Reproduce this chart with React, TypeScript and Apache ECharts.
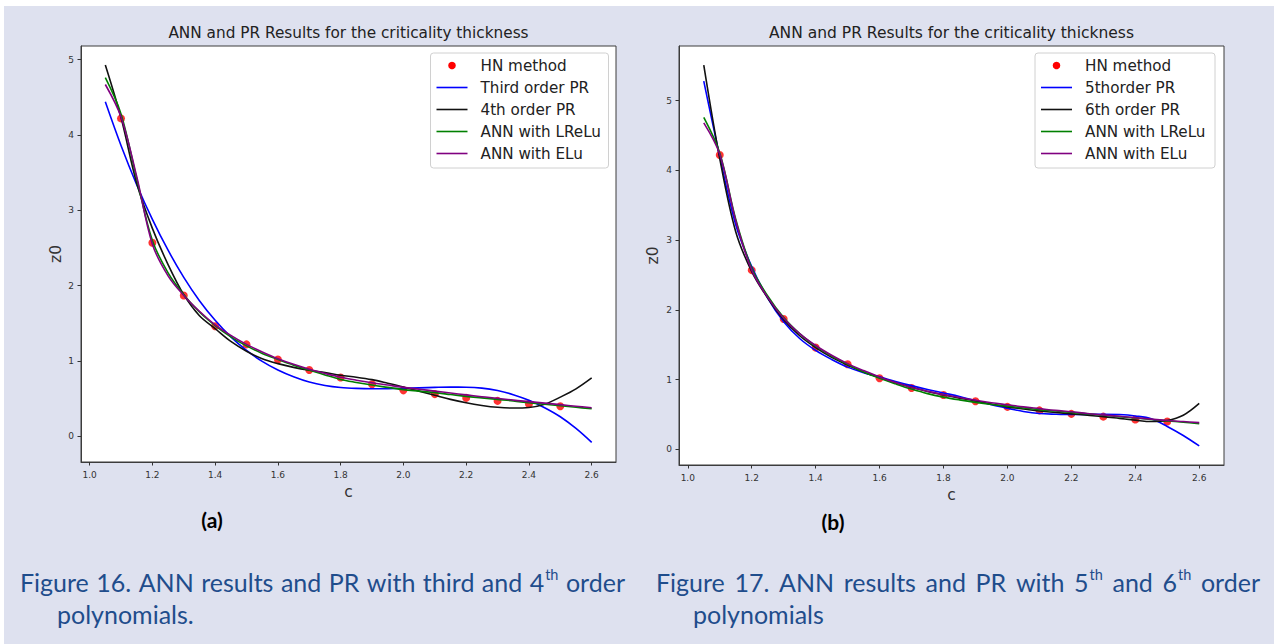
import { useEffect, useRef } from "react";
import * as echarts from "echarts";

// Abscissa grid on which the fitted curves are evaluated
const cFit = [
  1.05, 1.1, 1.15, 1.2, 1.25, 1.3, 1.35, 1.4, 1.45, 1.5, 1.55, 1.6, 1.65, 1.7, 1.75, 1.8,
  1.85, 1.9, 1.95, 2.0, 2.05, 2.1, 2.15, 2.2, 2.25, 2.3, 2.35, 2.4, 2.45, 2.5, 2.55, 2.6,
];

// HN method reference points
const cHN = [1.1, 1.2, 1.3, 1.4, 1.5, 1.6, 1.7, 1.8, 1.9, 2.0, 2.1, 2.2, 2.3, 2.4, 2.5];
const z0HN = [4.22, 2.57, 1.87, 1.46, 1.22, 1.02, 0.88, 0.78, 0.69, 0.61, 0.56, 0.51, 0.47, 0.43, 0.4];

// (a) third / fourth order polynomial regression and ANN fits
const z0Poly3 = [
  4.44, 3.86, 3.34, 2.88, 2.47, 2.11, 1.8, 1.54, 1.32, 1.14, 0.995, 0.88, 0.79, 0.72, 0.675, 0.648,
  0.636, 0.632, 0.633, 0.637, 0.643, 0.649, 0.653, 0.652, 0.64, 0.607, 0.553, 0.478, 0.38, 0.26, 0.105, -0.08,
];
const z0Poly4 = [
  4.93, 4.23, 3.36, 2.76, 2.28, 1.88, 1.6, 1.43, 1.26, 1.13, 1.03, 0.965, 0.915, 0.876, 0.845, 0.81,
  0.785, 0.752, 0.705, 0.655, 0.6, 0.545, 0.49, 0.445, 0.41, 0.385, 0.375, 0.382, 0.425, 0.52, 0.63, 0.775,
];
const z0LReLuA = [
  4.76, 4.28, 3.42, 2.6, 2.17, 1.88, 1.65, 1.47, 1.32, 1.2, 1.1, 1.02, 0.945, 0.88, 0.815, 0.755,
  0.715, 0.68, 0.65, 0.62, 0.6, 0.58, 0.555, 0.53, 0.51, 0.49, 0.47, 0.445, 0.425, 0.405, 0.385, 0.365,
];
const z0ELuA = [
  4.67, 4.24, 3.45, 2.55, 2.13, 1.87, 1.66, 1.48, 1.34, 1.22, 1.12, 1.03, 0.955, 0.89, 0.835, 0.785,
  0.745, 0.71, 0.68, 0.65, 0.625, 0.6, 0.575, 0.55, 0.525, 0.505, 0.48, 0.46, 0.44, 0.42, 0.4, 0.38,
];

// (b) fifth / sixth order polynomial regression and ANN fits
const z0Poly5 = [
  5.28, 4.2, 3.22, 2.62, 2.17, 1.83, 1.59, 1.42, 1.29, 1.18, 1.1, 1.04, 0.975, 0.915, 0.86, 0.81,
  0.76, 0.7, 0.64, 0.59, 0.545, 0.515, 0.505, 0.5, 0.502, 0.505, 0.5, 0.48, 0.44, 0.33, 0.2, 0.05,
];
const z0Poly6 = [
  5.51, 4.17, 3.12, 2.55, 2.17, 1.86, 1.63, 1.46, 1.32, 1.21, 1.11, 1.03, 0.955, 0.89, 0.83, 0.78,
  0.735, 0.695, 0.65, 0.61, 0.58, 0.55, 0.53, 0.51, 0.49, 0.47, 0.445, 0.42, 0.4, 0.415, 0.49, 0.66,
];
const z0LReLuB = [
  4.76, 4.25, 3.3, 2.6, 2.2, 1.89, 1.66, 1.48, 1.34, 1.22, 1.11, 1.02, 0.94, 0.865, 0.8, 0.75,
  0.71, 0.675, 0.645, 0.62, 0.595, 0.57, 0.55, 0.53, 0.51, 0.49, 0.47, 0.45, 0.43, 0.41, 0.39, 0.37,
];
const z0ELuB = [
  4.68, 4.23, 3.28, 2.57, 2.18, 1.88, 1.66, 1.49, 1.35, 1.23, 1.13, 1.04, 0.96, 0.89, 0.835, 0.785,
  0.745, 0.705, 0.67, 0.64, 0.61, 0.585, 0.56, 0.54, 0.515, 0.495, 0.475, 0.455, 0.435, 0.415, 0.4, 0.385,
];

// Tick labels
const xTickValues = [1.0, 1.2, 1.4, 1.6, 1.8, 2.0, 2.2, 2.4, 2.6];
const yTickValues = [0, 1, 2, 3, 4, 5];

const chartTitle = "ANN and PR Results for the criticality thickness";
const legendNamesA = ["HN method", "Third order PR", "4th order PR", "ANN with LReLu", "ANN with ELu"];
const legendNamesB = ["HN method", "5thorder PR", "6th order PR", "ANN with LReLu", "ANN with ELu"];

const RED = "#ff0000";
const BLUE = "#0000ff";
const BLACK = "#111111";
const GREEN = "#008000";
const PURPLE = "#800080";
const CAPTION = "#1f4d8c";
const MPL_FONT = "DejaVu Sans";
const DOC_FONT = "Lato";

type Panel = {
  grid: { left: number; top: number; width: number; height: number };
  xRange: [number, number];
  yRange: [number, number];
  curves: number[][];
  names: string[];
  legend: { x: number; y: number; w: number; h: number };
  tag: { text: string; x: number; y: number };
  yNameGap: number;
  titleSize: number;
};

const panels: Panel[] = [
  {
    grid: { left: 81, top: 46, width: 535, height: 416 },
    xRange: [0.9725, 2.6775],
    yRange: [-0.341, 5.181],
    curves: [z0Poly3, z0Poly4, z0LReLuA, z0ELuA],
    names: legendNamesA,
    legend: { x: 430.5, y: 53, w: 178, h: 115 },
    tag: { text: "(a)", x: 212, y: 519 },
    yNameGap: 17,
    titleSize: 15.3,
  },
  {
    grid: { left: 679, top: 46, width: 545, height: 419 },
    xRange: [0.9725, 2.6775],
    yRange: [-0.223, 5.783],
    curves: [z0Poly5, z0Poly6, z0LReLuB, z0ELuB],
    names: legendNamesB,
    legend: { x: 1035, y: 53, w: 180, h: 115 },
    tag: { text: "(b)", x: 833, y: 521 },
    yNameGap: 18,
    titleSize: 15.5,
  },
];

const lineColors = [BLUE, BLACK, GREEN, PURPLE];

type Word = { t: string; sup?: string };

const captionA1: Word[] = [
  { t: "Figure" }, { t: "16." }, { t: "ANN" }, { t: "results" }, { t: "and" }, { t: "PR" },
  { t: "with" }, { t: "third" }, { t: "and" }, { t: "4", sup: "th" }, { t: "order" },
];
const captionB1: Word[] = [
  { t: "Figure" }, { t: "17." }, { t: "ANN" }, { t: "results" }, { t: "and" }, { t: "PR" },
  { t: "with" }, { t: "5", sup: "th" }, { t: "and" }, { t: "6", sup: "th" }, { t: "order" },
];

function buildOption() {
  const canvas = document.createElement("canvas");
  const ctx = canvas.getContext("2d")!;
  const capSize = 25;
  const supSize = 14.5;
  const measure = (text: string, size: number) => {
    ctx.font = `${size}px ${DOC_FONT}`;
    return ctx.measureText(text).width;
  };

  const graphics: any[] = [];

  // Justified caption line: words spread between x0 and x1
  const justified = (words: Word[], x0: number, x1: number, y: number) => {
    const widths = words.map((w) => measure(w.t, capSize) + (w.sup ? measure(w.sup, supSize) + 1 : 0));
    const total = widths.reduce((a, b) => a + b, 0);
    const gap = (x1 - x0 - total) / (words.length - 1);
    let x = x0;
    words.forEach((w, i) => {
      graphics.push({
        type: "text",
        x,
        y,
        style: { text: w.t, fontSize: capSize, fontFamily: DOC_FONT, fill: CAPTION, align: "left", verticalAlign: "middle" },
      });
      if (w.sup) {
        graphics.push({
          type: "text",
          x: x + measure(w.t, capSize) + 1,
          y: y - 8,
          style: { text: w.sup, fontSize: supSize, fontFamily: DOC_FONT, fill: CAPTION, align: "left", verticalAlign: "middle" },
        });
      }
      x += widths[i] + gap;
    });
  };

  justified(captionA1, 20, 625, 582);
  graphics.push({
    type: "text", x: 57, y: 614,
    style: { text: "polynomials.", fontSize: capSize, fontFamily: DOC_FONT, fill: CAPTION, align: "left", verticalAlign: "middle" },
  });
  justified(captionB1, 656, 1260, 582);
  graphics.push({
    type: "text", x: 693, y: 614,
    style: { text: "polynomials", fontSize: capSize, fontFamily: DOC_FONT, fill: CAPTION, align: "left", verticalAlign: "middle" },
  });

  const grids: any[] = [];
  const xAxes: any[] = [];
  const yAxes: any[] = [];
  const series: any[] = [];

  panels.forEach((p, pi) => {
    grids.push({
      ...p.grid,
      show: true,
      backgroundColor: "#ffffff",
      borderColor: "#3c3c3c",
      borderWidth: 1,
    });
    xAxes.push({
      type: "value",
      gridIndex: pi,
      min: p.xRange[0],
      max: p.xRange[1],
      axisLine: { show: true, onZero: false, lineStyle: { color: "#3c3c3c", width: 1 } },
      axisTick: { show: true, inside: false, length: 3.5, lineStyle: { color: "#333" }, customValues: xTickValues },
      axisLabel: {
        customValues: xTickValues,
        formatter: (v: number) => v.toFixed(1),
        fontSize: 9,
        fontFamily: MPL_FONT,
        color: "#333",
        margin: 8,
      },
      splitLine: { show: false },
      name: "c",
      nameLocation: "middle",
      nameGap: 20,
      nameTextStyle: { fontSize: 15.5, fontFamily: MPL_FONT, color: "#333" },
    });
    yAxes.push({
      type: "value",
      gridIndex: pi,
      min: p.yRange[0],
      max: p.yRange[1],
      axisLine: { show: true, onZero: false, lineStyle: { color: "#3c3c3c", width: 1 } },
      axisTick: { show: true, inside: false, length: 3.5, lineStyle: { color: "#333" }, customValues: yTickValues },
      axisLabel: {
        customValues: yTickValues,
        formatter: (v: number) => String(v),
        fontSize: 9,
        fontFamily: MPL_FONT,
        color: "#333",
        margin: 7,
      },
      splitLine: { show: false },
      name: "z0",
      nameLocation: "middle",
      nameRotate: 90,
      nameGap: p.yNameGap,
      nameTextStyle: { fontSize: 15.5, fontFamily: MPL_FONT, color: "#333" },
    });

    series.push({
      type: "scatter",
      name: p.names[0],
      xAxisIndex: pi,
      yAxisIndex: pi,
      data: cHN.map((c, i) => [c, z0HN[i]]),
      symbol: "circle",
      symbolSize: 8,
      itemStyle: { color: RED },
      z: 2,
    });
    p.curves.forEach((vals, ci) => {
      series.push({
        type: "line",
        name: p.names[ci + 1],
        xAxisIndex: pi,
        yAxisIndex: pi,
        data: cFit.map((c, i) => [c, vals[i]]),
        showSymbol: false,
        symbol: "none",
        smooth: 0.35,
        lineStyle: { color: lineColors[ci], width: 1.6 },
        z: 3 + ci,
      });
    });

    // Plot title
    graphics.push({
      type: "text",
      x: p.grid.left + p.grid.width / 2,
      y: 33,
      style: { text: chartTitle, fontSize: p.titleSize, fontFamily: MPL_FONT, fill: "#222", align: "center", verticalAlign: "middle" },
    });

    // Legend box
    const L = p.legend;
    graphics.push({
      type: "rect",
      z: 100,
      shape: { x: L.x, y: L.y, width: L.w, height: L.h, r: 3 },
      style: { fill: "rgba(255,255,255,0.9)", stroke: "#d0d0d0", lineWidth: 1 },
    });
    p.names.forEach((name, i) => {
      const rowY = L.y + 12.5 + i * 22;
      if (i === 0) {
        graphics.push({
          type: "circle",
          z: 101,
          shape: { cx: L.x + 21.5, cy: rowY, r: 3.8 },
          style: { fill: RED },
        });
      } else {
        graphics.push({
          type: "line",
          z: 101,
          shape: { x1: L.x + 6, y1: rowY, x2: L.x + 37, y2: rowY },
          style: { stroke: lineColors[i - 1], lineWidth: 1.6 },
        });
      }
      graphics.push({
        type: "text",
        z: 101,
        x: L.x + 50,
        y: rowY,
        style: { text: name, fontSize: 15.2, fontFamily: MPL_FONT, fill: "#222", align: "left", verticalAlign: "middle" },
      });
    });

    // Sub-figure tag
    graphics.push({
      type: "text",
      x: p.tag.x,
      y: p.tag.y,
      style: { text: p.tag.text, fontSize: 21, fontWeight: "bold", fontFamily: DOC_FONT, fill: "#000", align: "center", verticalAlign: "middle" },
    });
  });

  return {
    animation: false,
    backgroundColor: "transparent",
    grid: grids,
    xAxis: xAxes,
    yAxis: yAxes,
    series,
    graphic: { elements: graphics },
  };
}

export default function App() {
  const ref = useRef<HTMLDivElement>(null);

  useEffect(() => {
    document.body.style.margin = "0";
    const chart = echarts.init(ref.current!, null, { renderer: "svg" });
    chart.setOption(buildOption());
    return () => chart.dispose();
  }, []);

  return (
    <div style={{ position: "relative", width: 1274, height: 644, background: "#ffffff", overflow: "hidden" }}>
      <div style={{ position: "absolute", left: 4, top: 6, right: 0, bottom: 0, background: "#dee1ef" }} />
      <div ref={ref} style={{ position: "absolute", left: 0, top: 0, width: 1274, height: 644 }} />
    </div>
  );
}
